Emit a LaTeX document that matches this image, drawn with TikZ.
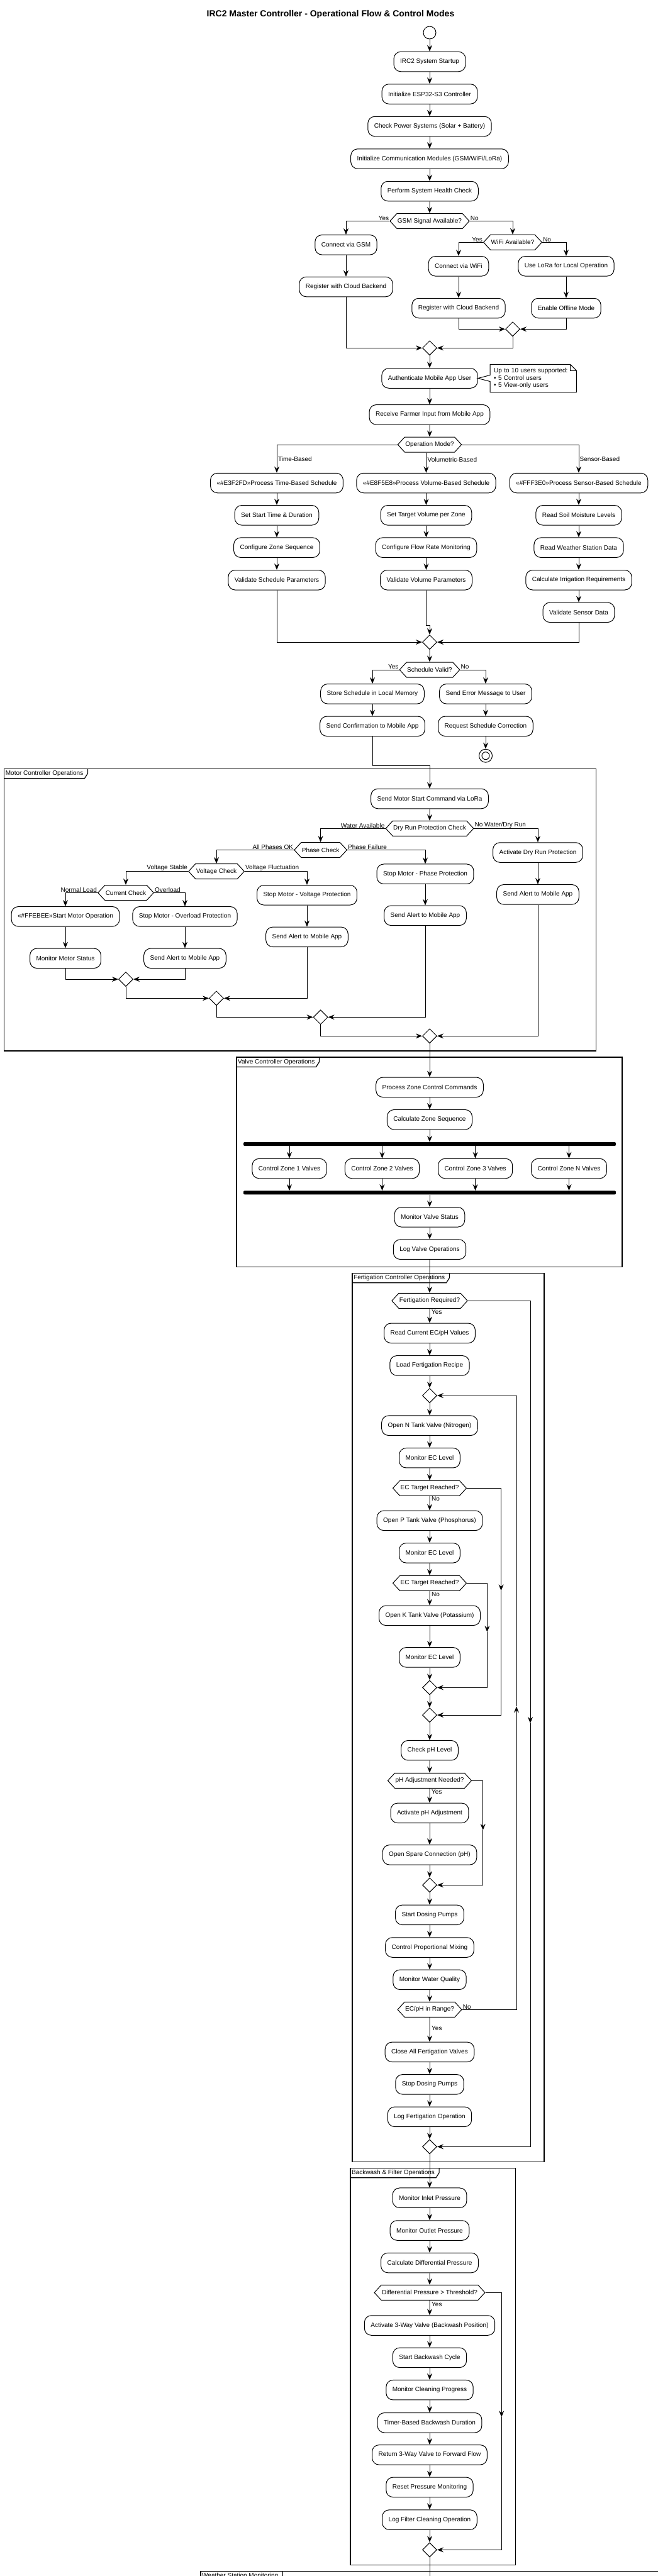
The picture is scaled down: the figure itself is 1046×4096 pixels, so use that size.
\documentclass[tikz,border=0pt]{standalone}
\usepackage{fontspec}
\setmainfont{Liberation Sans}
\usetikzlibrary{shapes.geometric,shapes.symbols,arrows.meta}

\begin{document}
\begin{tikzpicture}[
    x=1pt, y=-1pt,
    font=\fontsize{10}{12}\selectfont,
    act/.style={rectangle, rounded corners=11pt, draw, line width=1pt, fill=white, inner xsep=10pt, minimum height=31.5pt},
    dec/.style={signal, signal to=west and east, signal pointer angle=95, draw, line width=1pt, fill=white, inner xsep=1pt, inner ysep=0pt, minimum height=24pt},
    merge/.style={diamond, draw, line width=1pt, fill=white, minimum width=23pt, minimum height=23pt, inner sep=0pt},
    bar/.style={rectangle, fill=black, rounded corners=2pt, minimum height=6pt, inner sep=0pt},
    flow/.style={-{Stealth[length=10pt,width=8pt,inset=3.5pt]}, line width=0.7pt},
    line/.style={line width=0.7pt},
    lbl/.style={inner sep=1pt},
    grp/.style={anchor=north west, inner xsep=2pt, inner ysep=0pt, minimum height=15pt},
    frame/.style={line width=1.2pt},
    notetxt/.style={anchor=north west, text width=125pt, inner xsep=6pt, inner ysep=4pt, minimum height=44pt, align=left, font=\fontsize{10}{11.5}\selectfont},
    title/.style={font=\fontsize{14}{16}\selectfont\bfseries}
]
    \useasboundingbox (0,0) rectangle (1046,4096);
    \clip (0,0) rectangle (1046,4096);

    \draw[frame] (6.7,1222.3) rectangle (947.4,1671);
    \node[grp] (motorgrp) at (6.7,1222.3) {Motor Controller Operations};
    \draw[frame] (motorgrp.south west) -- (motorgrp.south east) -- ++(5,-8) -- ++(0,-7);
    \draw[frame] (376,1681) rectangle (989,2014.3);
    \node[grp] (valvegrp) at (376,1681) {Valve Controller Operations};
    \draw[frame] (valvegrp.south west) -- (valvegrp.south east) -- ++(5,-8) -- ++(0,-7);
    \draw[frame] (560,2024.3) rectangle (865,3437.3);
    \node[grp] (fertgrp) at (560,2024.3) {Fertigation Controller Operations};
    \draw[frame] (fertgrp.south west) -- (fertgrp.south east) -- ++(5,-8) -- ++(0,-7);
    \draw[frame] (557,3447.3) rectangle (819.3,4078.3);
    \node[grp] (washgrp) at (557,3447.3) {Backwash \& Filter Operations};
    \draw[frame] (washgrp.south west) -- (washgrp.south east) -- ++(5,-8) -- ++(0,-7);
    \draw[frame] (319,4088.3) rectangle (1100,4200);
    \node[grp] (weathergrp) at (319,4088.3) {Weather Station Monitoring};
    \draw[frame] (weathergrp.south west) -- (weathergrp.south east) -- ++(5,-8) -- ++(0,-7);

    \node[title] (title) at (525.5,23) {IRC2 Master Controller - Operational Flow \& Control Modes};
    \node[circle, draw, line width=1pt, minimum size=20pt, inner sep=0pt] (start) at (683,52) {};
    \node[act] (startup) at (683,98) {IRC2 System Startup};
    \node[act] (initesp) at (683,149.5) {Initialize ESP32-S3 Controller};
    \node[act] (power) at (683,201) {Check Power Systems (Solar + Battery)};
    \node[act] (initcom) at (683,252.5) {Initialize Communication Modules (GSM/WiFi/LoRa)};
    \node[act] (health) at (683,304) {Perform System Health Check};
    \node[dec] (gsm) at (683,351.5) {GSM Signal Available?};
    \node[act] (congsm) at (550,389.3) {Connect via GSM};
    \node[act] (reggsm) at (550,456) {Register with Cloud Backend};
    \node[dec] (wifi) at (815,385.3) {WiFi Available?};
    \node[act] (conwifi) at (729,423.3) {Connect via WiFi};
    \node[act] (lora) at (900,423.3) {Use LoRa for Local Operation};
    \node[act] (regwifi) at (729,490) {Register with Cloud Backend};
    \node[act] (offline) at (900,490) {Enable Offline Mode};
    \node[merge] (mwifi) at (815,523.3) {};
    \node[merge] (mcomm) at (683,553.3) {};
    \node[act] (auth) at (683,601.5) {Authenticate Mobile App User};
    \node[notetxt] (note) at (779,579.3) {Up to 10 users supported:\\• 5 Control users\\• 5 View-only users};
    \draw[line width=1pt] (note.north west) -- ([xshift=-10pt]note.north east) -- ([yshift=-10pt]note.north east) -- (note.south east) -- (note.south west) -- ([yshift=-5pt]note.west) -- (auth.east) -- ([yshift=5pt]note.west) -- cycle;
    \draw[line width=1pt] ([xshift=-10pt]note.north east) |- ([yshift=-10pt]note.north east);
    \node[act] (input) at (683,659.3) {Receive Farmer Input from Mobile App};
    \node[dec] (mode) at (683,707) {Operation Mode?};

    \node[act] (timesched) at (440,768) {«\#E3F2FD»Process Time-Based Schedule};
    \node[act] (volsched) at (677.5,768) {«\#E8F5E8»Process Volume-Based Schedule};
    \node[act] (sensched) at (920,768) {«\#FFF3E0»Process Sensor-Based Schedule};
    \node[act] (settime) at (440,819.3) {Set Start Time \& Duration};
    \node[act] (zoneorder) at (440,870.7) {Configure Zone Sequence};
    \node[act] (validsched) at (440,922.3) {Validate Schedule Parameters};
    \node[act] (setvol) at (677.5,819.3) {Set Target Volume per Zone};
    \node[act] (flowrate) at (677.5,870.7) {Configure Flow Rate Monitoring};
    \node[act] (volvalid) at (677.5,922.3) {Validate Volume Parameters};
    \node[act] (soil) at (920,819.3) {Read Soil Moisture Levels};
    \node[act] (weather) at (920,870.7) {Read Weather Station Data};
    \node[act] (irrig) at (920,922.3) {Calculate Irrigation Requirements};
    \node[act] (sensvalid) at (920,973.8) {Validate Sensor Data};
    \coordinate (jvol) at (683,994.3);
    \node[merge] (mplan) at (683,1021) {};
    \node[dec] (valid) at (683,1065) {Schedule Valid?};
    \node[act] (store) at (592,1103.3) {Store Schedule in Local Memory};
    \node[act] (error) at (772,1103.3) {Send Error Message to User};
    \node[act] (confirm) at (592,1154.8) {Send Confirmation to Mobile App};
    \node[act] (correct) at (772,1154.8) {Request Schedule Correction};
    \node[circle, draw, line width=1pt, minimum size=21pt, inner sep=0pt] (stop) at (772,1201.7) {};
    \node[circle, draw, line width=1pt, minimum size=12pt, inner sep=0pt] (stopin) at (stop) {};
    \coordinate (jmotor) at (683,1217.3);

    \node[act] (motorcmd) at (683,1270) {Send Motor Start Command via LoRa};
    \node[dec] (dryrun) at (683,1317.3) {Dry Run Protection Check};
    \node[dec] (phase) at (509.6,1351.5) {Phase Check};
    \node[act] (drystop) at (855,1355.5) {Activate Dry Run Protection};
    \node[dec] (voltage) at (344,1385.5) {Voltage Check};
    \node[act] (phasestop) at (676,1389.7) {Stop Motor - Phase Protection};
    \node[act] (dryalert) at (855,1422.3) {Send Alert to Mobile App};
    \node[dec] (current) at (200,1419.5) {Current Check};
    \node[act] (voltstop) at (488,1423.3) {Stop Motor - Voltage Protection};
    \node[act] (phasealert) at (676,1455.8) {Send Alert to Mobile App};
    \node[act] (motorrun) at (104,1457.3) {«\#FFEBEE»Start Motor Operation};
    \node[act] (overstop) at (294,1457.3) {Stop Motor - Overload Protection};
    \node[act] (voltalert) at (488,1489.8) {Send Alert to Mobile App};
    \node[act] (motormon) at (104,1523.8) {Monitor Motor Status};
    \node[act] (overalert) at (294,1523.8) {Send Alert to Mobile App};
    \node[merge] (mcur) at (200,1557) {};
    \node[merge] (mvolt) at (344,1587.3) {};
    \node[merge] (mphase) at (509.6,1617.3) {};
    \node[merge] (mdry) at (683,1647.3) {};

    \node[act] (zonecmd) at (683,1728.8) {Process Zone Control Commands};
    \node[act] (zoneseq) at (683,1780.2) {Calculate Zone Sequence};
    \node[bar, minimum width=592pt] (fork) at (683,1819) {};
    \node[act] (zone1) at (460,1858) {Control Zone 1 Valves};
    \node[act] (zone2) at (607.5,1858) {Control Zone 2 Valves};
    \node[act] (zone3) at (755.6,1858) {Control Zone 3 Valves};
    \node[act] (zonen) at (904.5,1858) {Control Zone N Valves};
    \node[bar, minimum width=592pt] (join) at (683,1896.3) {};
    \node[act] (valvemon) at (683,1935.3) {Monitor Valve Status};
    \node[act] (valvelog) at (683,1986.7) {Log Valve Operations};

    \node[dec] (fertreq) at (683,2068.3) {Fertigation Required?};
    \node[act] (readec) at (683,2119.8) {Read Current EC/pH Values};
    \node[act] (recipe) at (683,2171.3) {Load Fertigation Recipe};
    \node[merge] (mloop) at (683,2219) {};
    \node[act] (ntank) at (683,2266.7) {Open N Tank Valve (Nitrogen)};
    \node[act] (ecmon1) at (683,2318.2) {Monitor EC Level};
    \node[dec] (ecok1) at (683,2366.3) {EC Target Reached?};
    \node[act] (ptank) at (683,2417.8) {Open P Tank Valve (Phosphorus)};
    \node[act] (ecmon2) at (683,2469.3) {Monitor EC Level};
    \node[dec] (ecok2) at (683,2517.3) {EC Target Reached?};
    \node[act] (ktank) at (683,2568.8) {Open K Tank Valve (Potassium)};
    \node[act] (ecmon3) at (683,2635.3) {Monitor EC Level};
    \node[merge] (mec2) at (683,2683.3) {};
    \node[merge] (mec1) at (683,2727) {};
    \node[act] (phcheck) at (683,2783.2) {Check pH Level};
    \node[dec] (phneed) at (683,2831.3) {pH Adjustment Needed?};
    \node[act] (phact) at (683,2882.8) {Activate pH Adjustment};
    \node[act] (spare) at (683,2949.3) {Open Spare Connection (pH)};
    \node[merge] (mph) at (683,2997.3) {};
    \node[act] (dosing) at (683,3044.8) {Start Dosing Pumps};
    \node[act] (mixing) at (683,3096.5) {Control Proportional Mixing};
    \node[act] (quality) at (683,3147.8) {Monitor Water Quality};
    \node[dec] (inrange) at (683,3195.3) {EC/pH in Range?};
    \node[act] (closev) at (683,3262.8) {Close All Fertigation Valves};
    \node[act] (stopdose) at (683,3314.3) {Stop Dosing Pumps};
    \node[act] (fertlog) at (683,3365.8) {Log Fertigation Operation};
    \node[merge] (mfert) at (683,3413.3) {};
    \coordinate (jfert) at (843,2740);
    \coordinate (jec1) at (796.6,2529.3);
    \coordinate (jec2) at (774.4,2595);
    \coordinate (jph) at (767.7,2910);
    \coordinate (jloop) at (821,2713.3);

    \node[act] (inlet) at (683,3494.7) {Monitor Inlet Pressure};
    \node[act] (outlet) at (683,3546.5) {Monitor Outlet Pressure};
    \node[act] (diffp) at (683,3598) {Calculate Differential Pressure};
    \node[dec] (thresh) at (683,3645.3) {Differential Pressure > Threshold?};
    \node[act] (bwvalve) at (683,3697.5) {Activate 3-Way Valve (Backwash Position)};
    \node[act] (bwstart) at (683,3748.8) {Start Backwash Cycle};
    \node[act] (bwmon) at (683,3800.2) {Monitor Cleaning Progress};
    \node[act] (bwtimer) at (683,3852.2) {Timer-Based Backwash Duration};
    \node[act] (bwreturn) at (683,3903.3) {Return 3-Way Valve to Forward Flow};
    \node[act] (bwreset) at (683,3954.8) {Reset Pressure Monitoring};
    \node[act] (bwlog) at (683,4006.5) {Log Filter Cleaning Operation};
    \node[merge] (mbw) at (683,4054.3) {};
    \coordinate (jbw) at (797.2,3843.3);
    \coordinate (jend) at (683,4096);

    \node[lbl, anchor=south east] (gsmyes) at (gsm.west) {Yes};
    \node[lbl, anchor=south west] (gsmno) at (gsm.east) {No};
    \node[lbl, anchor=south east] (wifiyes) at (wifi.west) {Yes};
    \node[lbl, anchor=south west] (wifino) at (wifi.east) {No};
    \node[lbl, anchor=west] (timelbl) at (441,730) {Time-Based};
    \node[lbl, anchor=west] (vollbl) at (678.5,730.7) {Volumetric-Based};
    \node[lbl, anchor=west] (senslbl) at (920.5,730) {Sensor-Based};
    \node[lbl, anchor=south east] (validyes) at (valid.west) {Yes};
    \node[lbl, anchor=south west] (validno) at (valid.east) {No};
    \node[lbl, anchor=south east] (drywater) at (dryrun.west) {Water Available};
    \node[lbl, anchor=south west] (drynone) at (dryrun.east) {No Water/Dry Run};
    \node[lbl, anchor=south east] (phaseok) at (phase.west) {All Phases OK};
    \node[lbl, anchor=south west] (phasefail) at (phase.east) {Phase Failure};
    \node[lbl, anchor=south east] (voltok) at (voltage.west) {Voltage Stable};
    \node[lbl, anchor=south west] (voltfail) at (voltage.east) {Voltage Fluctuation};
    \node[lbl, anchor=south east] (curok) at (current.west) {Normal Load};
    \node[lbl, anchor=south west] (curfail) at (current.east) {Overload};
    \node[lbl, anchor=west] (fertyes) at (685,2086) {Yes};
    \node[lbl, anchor=west] (ecno1) at (685,2383.3) {No};
    \node[lbl, anchor=west] (ecno2) at (685,2535) {No};
    \node[lbl, anchor=west] (phyes) at (685,2849) {Yes};
    \node[lbl, anchor=south west] (rangeno) at (inrange.east) {No};
    \node[lbl, anchor=west] (rangeyes) at (685,3225) {Yes};
    \node[lbl, anchor=west] (threshyes) at (685,3664) {Yes};

    \draw[flow] (start) -- (startup);
    \draw[flow] (startup) -- (initesp);
    \draw[flow] (initesp) -- (power);
    \draw[flow] (power) -- (initcom);
    \draw[flow] (initcom) -- (health);
    \draw[flow] (health) -- (gsm);
    \draw[flow] (gsm.west) -| (congsm.north);
    \draw[flow] (gsm.east) -| (wifi.north);
    \draw[flow] (congsm) -- (reggsm);
    \draw[flow] (wifi.west) -| (conwifi.north);
    \draw[flow] (wifi.east) -| (lora.north);
    \draw[flow] (conwifi) -- (regwifi);
    \draw[flow] (lora) -- (offline);
    \draw[flow] (regwifi.south) |- (mwifi.west);
    \draw[flow] (offline.south) |- (mwifi.east);
    \draw[flow] (reggsm.south) |- (mcomm.west);
    \draw[flow] (mwifi.south) |- (mcomm.east);
    \draw[flow] (mcomm) -- (auth);
    \draw[flow] (auth) -- (input);
    \draw[flow] (input) -- (mode);
    \draw[flow] (mode.west) -| (timesched.north);
    \draw[flow] (mode.south -| volsched.north) -- (volsched.north);
    \draw[flow] (mode.east) -| (sensched.north);
    \draw[flow] (timesched) -- (settime);
    \draw[flow] (settime) -- (zoneorder);
    \draw[flow] (zoneorder) -- (validsched);
    \draw[flow] (volsched) -- (setvol);
    \draw[flow] (setvol) -- (flowrate);
    \draw[flow] (flowrate) -- (volvalid);
    \draw[flow] (sensched) -- (soil);
    \draw[flow] (soil) -- (weather);
    \draw[flow] (weather) -- (irrig);
    \draw[flow] (irrig) -- (sensvalid);
    \draw[flow] (validsched.south) |- (mplan.west);
    \draw[flow] (volvalid.south) |- (jvol) -- (mplan.north);
    \draw[flow] (sensvalid.south) |- (mplan.east);
    \draw[flow] (mplan) -- (valid);
    \draw[flow] (valid.west) -| (store.north);
    \draw[flow] (valid.east) -| (error.north);
    \draw[flow] (store) -- (confirm);
    \draw[flow] (error) -- (correct);
    \draw[flow] (correct) -- (stop);
    \draw[flow] (confirm.south) |- (jmotor) -- (motorcmd.north);

    \draw[flow] (motorcmd) -- (dryrun);
    \draw[flow] (dryrun.west) -| (phase.north);
    \draw[flow] (dryrun.east) -| (drystop.north);
    \draw[flow] (phase.west) -| (voltage.north);
    \draw[flow] (phase.east) -| (phasestop.north);
    \draw[flow] (voltage.west) -| (current.north);
    \draw[flow] (voltage.east) -| (voltstop.north);
    \draw[flow] (current.west) -| (motorrun.north);
    \draw[flow] (current.east) -| (overstop.north);
    \draw[flow] (motorrun) -- (motormon);
    \draw[flow] (overstop) -- (overalert);
    \draw[flow] (voltstop) -- (voltalert);
    \draw[flow] (phasestop) -- (phasealert);
    \draw[flow] (drystop) -- (dryalert);
    \draw[flow] (motormon.south) |- (mcur.west);
    \draw[flow] (overalert.south) |- (mcur.east);
    \draw[flow] (mcur.south) |- (mvolt.west);
    \draw[flow] (voltalert.south) |- (mvolt.east);
    \draw[flow] (mvolt.south) |- (mphase.west);
    \draw[flow] (phasealert.south) |- (mphase.east);
    \draw[flow] (mphase.south) |- (mdry.west);
    \draw[flow] (dryalert.south) |- (mdry.east);
    \draw[flow] (mdry) -- (zonecmd);

    \draw[flow] (zonecmd) -- (zoneseq);
    \draw[flow] (zoneseq) -- (fork);
    \draw[flow] (fork.south -| zone1.north) -- (zone1.north);
    \draw[flow] (fork.south -| zone2.north) -- (zone2.north);
    \draw[flow] (fork.south -| zone3.north) -- (zone3.north);
    \draw[flow] (fork.south -| zonen.north) -- (zonen.north);
    \draw[flow] (zone1.south) -- (zone1.south |- join.north);
    \draw[flow] (zone2.south) -- (zone2.south |- join.north);
    \draw[flow] (zone3.south) -- (zone3.south |- join.north);
    \draw[flow] (zonen.south) -- (zonen.south |- join.north);
    \draw[flow] (join) -- (valvemon);
    \draw[flow] (valvemon) -- (valvelog);
    \draw[flow] (valvelog) -- (fertreq);

    \draw[flow] (fertreq) -- (readec);
    \draw[flow] (fertreq.east) -| (jfert);
    \draw[flow] (jfert) |- (mfert.east);
    \draw[flow] (readec) -- (recipe);
    \draw[flow] (recipe) -- (mloop);
    \draw[flow] (mloop) -- (ntank);
    \draw[flow] (ntank) -- (ecmon1);
    \draw[flow] (ecmon1) -- (ecok1);
    \draw[flow] (ecok1) -- (ptank);
    \draw[flow] (ecok1.east) -| (jec1);
    \draw[flow] (jec1) |- (mec1.east);
    \draw[flow] (ptank) -- (ecmon2);
    \draw[flow] (ecmon2) -- (ecok2);
    \draw[flow] (ecok2) -- (ktank);
    \draw[flow] (ecok2.east) -| (jec2);
    \draw[flow] (jec2) |- (mec2.east);
    \draw[flow] (ktank) -- (ecmon3);
    \draw[flow] (ecmon3) -- (mec2);
    \draw[flow] (mec2) -- (mec1);
    \draw[flow] (mec1) -- (phcheck);
    \draw[flow] (phcheck) -- (phneed);
    \draw[flow] (phneed) -- (phact);
    \draw[flow] (phneed.east) -| (jph);
    \draw[flow] (jph) |- (mph.east);
    \draw[flow] (phact) -- (spare);
    \draw[flow] (spare) -- (mph);
    \draw[flow] (mph) -- (dosing);
    \draw[flow] (dosing) -- (mixing);
    \draw[flow] (mixing) -- (quality);
    \draw[flow] (quality) -- (inrange);
    \draw[flow] (inrange) -- (closev);
    \draw[flow] (inrange.east) -| (jloop);
    \draw[flow] (jloop) |- (mloop.east);
    \draw[flow] (closev) -- (stopdose);
    \draw[flow] (stopdose) -- (fertlog);
    \draw[flow] (fertlog) -- (mfert);
    \draw[flow] (mfert) -- (inlet);

    \draw[flow] (inlet) -- (outlet);
    \draw[flow] (outlet) -- (diffp);
    \draw[flow] (diffp) -- (thresh);
    \draw[flow] (thresh) -- (bwvalve);
    \draw[flow] (thresh.east) -| (jbw);
    \draw[flow] (jbw) |- (mbw.east);
    \draw[flow] (bwvalve) -- (bwstart);
    \draw[flow] (bwstart) -- (bwmon);
    \draw[flow] (bwmon) -- (bwtimer);
    \draw[flow] (bwtimer) -- (bwreturn);
    \draw[flow] (bwreturn) -- (bwreset);
    \draw[flow] (bwreset) -- (bwlog);
    \draw[flow] (bwlog) -- (mbw);
    \draw[line] (mbw.south) -- (jend);
\end{tikzpicture}
\end{document}
